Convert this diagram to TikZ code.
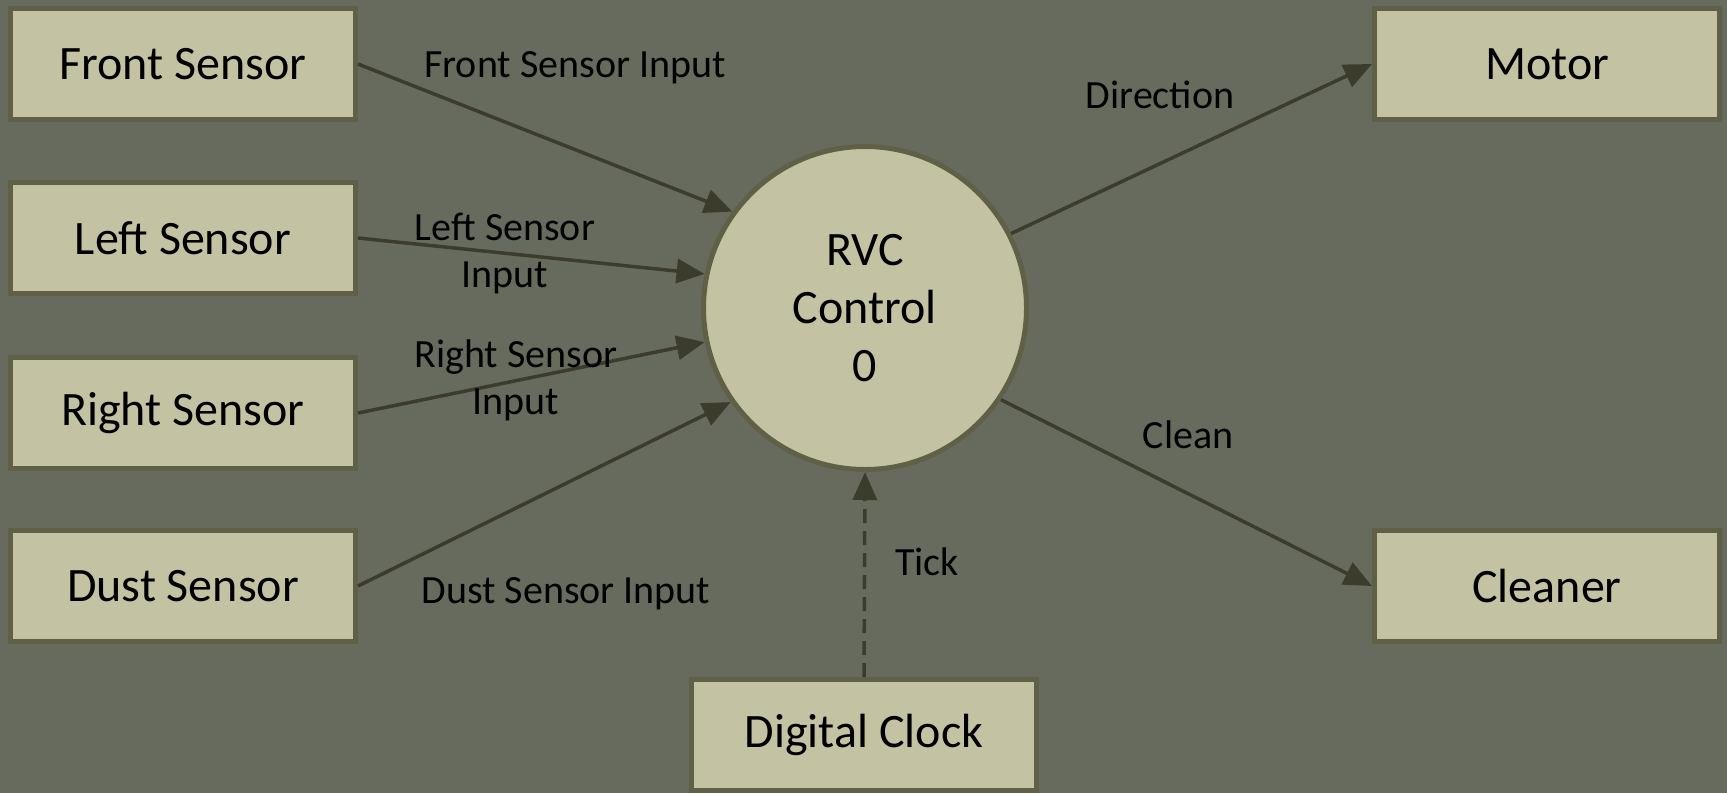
\documentclass[tikz,border=0pt]{standalone}
\usepackage{fontspec}
\setmainfont{Carlito}
\usetikzlibrary{arrows.meta}
\definecolor{bgc}{RGB}{103,107,93}
\definecolor{boxfill}{RGB}{195,195,163}
\definecolor{boxedge}{RGB}{96,96,70}
\definecolor{arrc}{RGB}{60,60,45}
\tikzset{
  box/.style={draw=boxedge, fill=boxfill, line width=2.5pt, minimum width=172.5pt, minimum height=55.5pt, inner sep=0pt, font=\fontsize{24}{29}\selectfont},
  proc/.style={circle, draw=boxedge, fill=boxfill, line width=2.5pt, minimum size=161.5pt, inner sep=0pt, align=center, font=\fontsize{24}{29}\selectfont},
  flow/.style={draw=arrc, line width=1.75pt, -{Triangle[length=14pt,width=12pt]}},
  lbl/.style={font=\fontsize{20}{23.5}\selectfont, align=center, inner sep=0pt}
}
\begin{document}
\begin{tikzpicture}[x=0.5pt,y=-0.5pt]
\fill[bgc] (0,0) rectangle (1727,793);
\useasboundingbox (0,0) rectangle (1727,793);
\node[box] (front) at (183,64) {Front Sensor};
\node[box] (left) at (183,238) {Left Sensor};
\node[box] (right) at (183,413) {Right Sensor};
\node[box] (dust) at (183,586) {Dust Sensor};
\node[box] (motor) at (1547,64) {Motor};
\node[box] (cleaner) at (1547,586) {Cleaner};
\node[box] (clock) at (864,735) {Digital Clock};
\node[proc] (rvc) at (865,308) {RVC\\Control\\0};
\draw[flow] (front.east) -- (rvc.144);
\draw[flow] (left.east) -- (rvc.168);
\draw[flow] (right.east) -- (rvc.192);
\draw[flow] (dust.east) -- (rvc.215);
\draw[flow] (rvc.27) -- (motor.west);
\draw[flow] (rvc.-34) -- (cleaner.west);
\draw[flow, dash pattern=on 7pt off 4pt] (clock.north) -- (rvc.south);
\node[lbl] (lfront) at (575,68) {Front Sensor Input};
\node[lbl] (lleft) at (505,254) {Left Sensor\\Input};
\node[lbl] (lright) at (516,380) {Right Sensor\\Input};
\node[lbl] (ldust) at (566,594) {Dust Sensor Input};
\node[lbl] (ldir) at (1160,95) {Direction};
\node[lbl] (lclean) at (1188,435) {Clean};
\node[lbl] (ltick) at (927,562) {Tick};
\end{tikzpicture}
\end{document}
